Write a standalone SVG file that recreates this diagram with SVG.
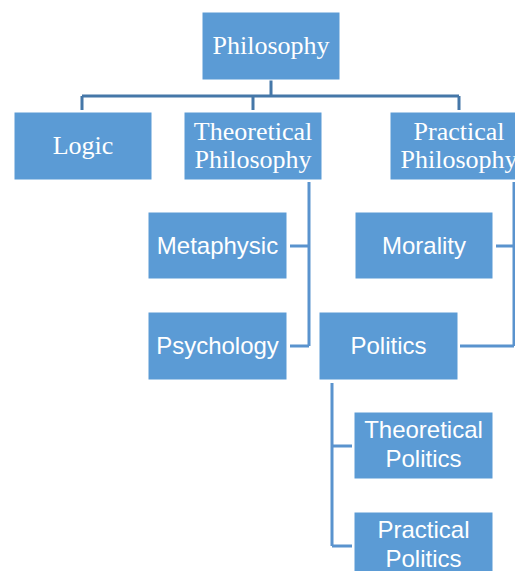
<svg xmlns="http://www.w3.org/2000/svg" width="515" height="571" viewBox="0 0 515 571">
<style>
.box{fill:#5B9BD5;stroke:#ffffff;stroke-width:1}
.serif{font-family:"Liberation Serif","Times New Roman",serif;font-size:26px;fill:#ffffff;text-anchor:middle}
.sans{font-family:"Liberation Sans",Arial,sans-serif;font-size:24px;fill:#ffffff;text-anchor:middle}
.c1{fill:none;stroke:#4577A8;stroke-width:3}
.c2{fill:none;stroke:#5A93CE;stroke-width:3}
</style>
<rect width="515" height="571" fill="#ffffff"/>
<g id="connectors">
<path class="c1" d="M271 80V96M82 96H459M82 96V110M253 96V110M459 96V110"/>
<path class="c2" d="M309 182V346M290 246H309M290 346H309"/>
<path class="c2" d="M514 182V346M496 246H514M460 346H514"/>
<path class="c2" d="M332 383V546M332 446H352M332 546H352"/>
</g>
<g id="philosophy"><rect class="box" x="202" y="12" width="138" height="68"/><text class="serif" x="271" y="54">Philosophy</text></g>
<g id="logic"><rect class="box" x="14" y="112" width="138" height="68"/><text class="serif" x="83" y="154">Logic</text></g>
<g id="theoretical-philosophy"><rect class="box" x="184" y="112" width="138" height="68"/><text class="serif" x="253" y="140">Theoretical</text><text class="serif" x="253" y="168">Philosophy</text></g>
<g id="practical-philosophy"><rect class="box" x="390" y="112" width="138" height="68"/><text class="serif" x="459" y="140">Practical</text><text class="serif" x="459" y="168">Philosophy</text></g>
<g id="metaphysic"><rect class="box" x="148" y="212" width="139" height="67"/><text class="sans" x="217.5" y="254">Metaphysic</text></g>
<g id="psychology"><rect class="box" x="148" y="312" width="139" height="68"/><text class="sans" x="217.5" y="354">Psychology</text></g>
<g id="morality"><rect class="box" x="355" y="212" width="138" height="67"/><text class="sans" x="424" y="254">Morality</text></g>
<g id="politics"><rect class="box" x="319" y="312" width="139" height="68"/><text class="sans" x="388.5" y="354">Politics</text></g>
<g id="theoretical-politics"><rect class="box" x="354" y="412" width="139" height="67"/><text class="sans" x="423.5" y="438">Theoretical</text><text class="sans" x="423.5" y="467">Politics</text></g>
<g id="practical-politics"><rect class="box" x="354" y="512" width="139" height="68"/><text class="sans" x="423.5" y="538">Practical</text><text class="sans" x="423.5" y="567">Politics</text></g>
</svg>
